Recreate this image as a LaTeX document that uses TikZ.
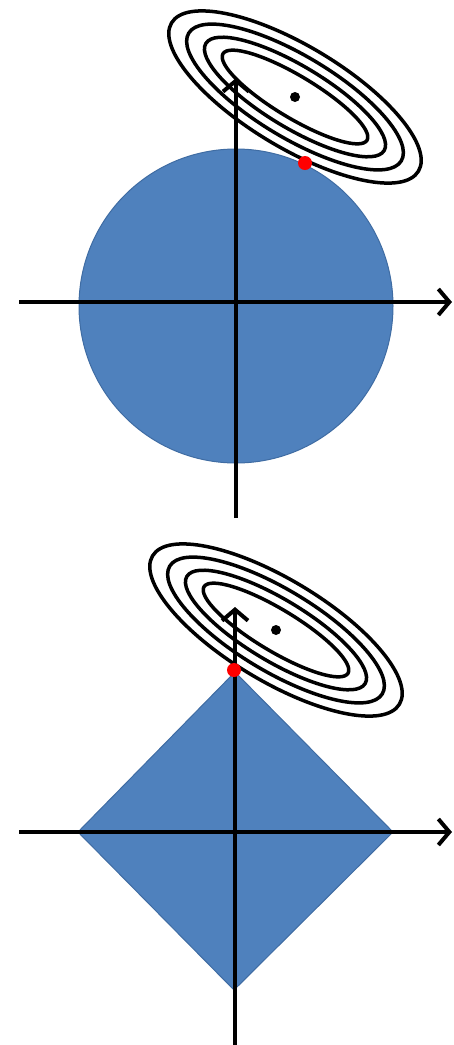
\documentclass[tikz,border=0pt]{standalone}
\usetikzlibrary{arrows.meta}
\definecolor{regblue}{HTML}{4F81BD}
\definecolor{regedge}{HTML}{3F6CA3}
\tikzset{
  axis/.style={line width=4pt, -{Straight Barb[length=11pt,width=26pt]}},
  region/.style={fill=regblue, draw=regedge, line width=1pt},
  contour/.style={line width=3.5pt, black},
  optdot/.style={fill=red},
  mindot/.style={fill=black}
}
\begin{document}
\begin{tikzpicture}[x=1pt,y=-1pt]
\useasboundingbox (0,0) rectangle (454,1045);
% ---------- top panel (L2) ----------
\coordinate (c1) at (236,306);
\fill[region] (c1) circle (157);
\coordinate (tmin) at (295,97);
\foreach \a/\b in {84/21,104/31,124/41,144/51}{
  \draw[contour] (tmin) ellipse[x radius=\a, y radius=\b, rotate=-31];
}
\coordinate (h1l) at (19,302);
\coordinate (h1r) at (452,302);
\coordinate (v1b) at (236,518);
\coordinate (v1t) at (236,78);
\draw[axis] (h1l) -- (h1r);
\draw[axis] (v1b) -- (v1t);
\fill[mindot] (tmin) circle (5);
\fill[optdot] (305,163) circle (7);
% ---------- bottom panel (L1) ----------
\coordinate (dl) at (78,832);
\coordinate (dt) at (235,672);
\coordinate (dr) at (393,832);
\coordinate (db) at (234,990);
\fill[region] (dl) -- (dt) -- (dr) -- (db) -- cycle;
\coordinate (bmin) at (276,630);
\foreach \a/\b in {84/21,104/31,124/41,144/51}{
  \draw[contour] (bmin) ellipse[x radius=\a, y radius=\b, rotate=-31];
}
\coordinate (h2l) at (19,832);
\coordinate (h2r) at (452,832);
\coordinate (v2b) at (235,1045);
\coordinate (v2t) at (235,607);
\draw[axis] (h2l) -- (h2r);
\draw[axis] (v2b) -- (v2t);
\fill[mindot] (bmin) circle (5);
\fill[optdot] (234,670) circle (7);
\end{tikzpicture}
\end{document}
